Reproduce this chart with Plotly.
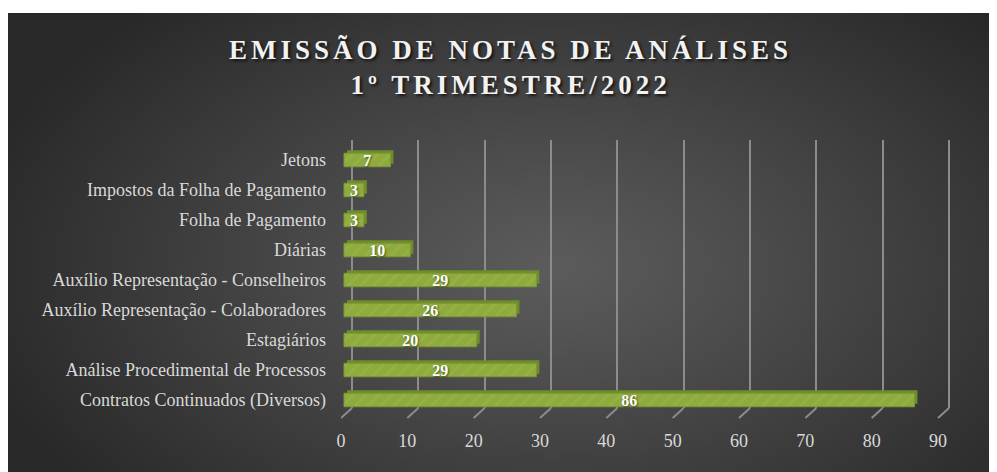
import base64, struct, zlib
import numpy as np
import plotly.graph_objects as go

# ---------------- data ----------------
categories = [
    "Jetons",
    "Impostos da Folha de Pagamento",
    "Folha de Pagamento",
    "Diárias",
    "Auxílio Representação - Conselheiros",
    "Auxílio Representação - Colaboradores",
    "Estagiários",
    "Análise Procedimental de Processos",
    "Contratos Continuados (Diversos)",
]
values = [7, 3, 3, 10, 29, 26, 20, 29, 86]
x_ticks = [0, 10, 20, 30, 40, 50, 60, 70, 80, 90]
title_lines = ["EMISSÃO DE NOTAS DE ANÁLISES", "1º TRIMESTRE/2022"]

# ---------------- geometry (page px; page body has an 8px margin) ----------------
OX, OY = 8, 8
W, H = 997 - OX, 472 - OY
PL, PR = 341 - OX, 953 - OX      # plot area left/right
PT, PB = 140 - OY, 408 - OY      # plot area top/bottom
pw, ph = PR - PL, PB - PT
ppu = 597.0 / 90.0               # px per unit (0 -> 341, 90 -> 938)
XMAX = pw / ppu
def shifted(px):
    return [-px / ppu, XMAX - px / ppu]

band = 30.0
ytop = ((PT + OY) - 160) / band  # category index at top edge (Jetons centre at y=160)
ybot = ytop + ph / band

# ---------------- background gradient (png) ----------------
def gradient_png(w, h):
    yy, xx = np.mgrid[0:h, 0:w]
    cx, cy = 0.55 * w, 0.55 * h
    r = np.sqrt(((xx - cx) / (0.62 * w)) ** 2 + ((yy - cy) / (0.78 * h)) ** 2)
    r = np.clip(r, 0, 1)
    c = 92 - (92 - 40) * r ** 1.1
    img = np.clip(c, 0, 255).astype(np.uint8)
    rgb = np.stack([img, img, img], axis=-1)
    raw = b"".join(b"\x00" + rgb[i].tobytes() for i in range(h))
    def chunk(t, d):
        return struct.pack(">I", len(d)) + t + d + struct.pack(">I", zlib.crc32(t + d) & 0xFFFFFFFF)
    png = b"\x89PNG\r\n\x1a\n" + chunk(b"IHDR", struct.pack(">IIBBBBB", w, h, 8, 2, 0, 0, 0)) \
        + chunk(b"IDAT", zlib.compress(raw, 9)) + chunk(b"IEND", b"")
    return "data:image/png;base64," + base64.b64encode(png).decode()

BG_L, BG_T, BG_R, BG_B = 8 - OX, 13 - OY, 996 - OX, 472 - OY

fig = go.Figure()

# front axis dummy (tick labels)
fig.add_trace(go.Scatter(x=[x_ticks[0], x_ticks[-1]], y=[categories[0], categories[0]],
                         mode="markers", marker=dict(opacity=0), xaxis="x", yaxis="y",
                         hoverinfo="skip", showlegend=False))
# back wall gridline axis dummy
fig.add_trace(go.Scatter(x=[x_ticks[0], x_ticks[-1]], y=[categories[0], categories[0]],
                         mode="markers", marker=dict(opacity=0), xaxis="x2", yaxis="y",
                         hoverinfo="skip", showlegend=False))
# depth of bars (shifted right 3px via axis, up 3px via offset)
fig.add_trace(go.Bar(x=values, y=categories, orientation="h", xaxis="x3", yaxis="y",
                     marker=dict(color="#6f8c2b", line=dict(width=0)), width=0.45,
                     offset=-0.225 - 3.0 / band,
                     hoverinfo="skip", showlegend=False))
# front face of bars
fig.add_trace(go.Bar(
    x=values, y=categories, orientation="h", xaxis="x4", yaxis="y",
    width=0.45,
    marker=dict(color="#8fab3e", line=dict(color="#7c9834", width=1),
                pattern=dict(shape="/", fgcolor="#a3bf55", fgopacity=0.35, size=9, solidity=0.25)),
    text=[str(v) for v in values], textposition="inside", insidetextanchor="middle",
    constraintext="none", textangle=0,
    textfont=dict(family="Liberation Serif", size=16, color="white", weight="bold",
                  shadow="1px 1px 2px rgba(0,0,0,0.5)"),
    showlegend=False,
))

shapes = []
for v in x_ticks:
    shapes.append(dict(type="line", xref="x", yref="paper",
                       x0=v, y0=-10.0 / ph, x1=v + 11.0 / ppu, y1=0,
                       line=dict(color="#8c8c8c", width=2)))

spaced = '<span style="letter-spacing:4px">{}</span>'
title_text = "<br>".join(spaced.format(t) for t in title_lines)

tickfont = dict(family="Liberation Serif", size=18, color="#d9d9d9")
fig.update_layout(
    width=W, height=H,
    margin=dict(l=PL, r=W - PR, t=PT, b=H - PB, pad=0),
    paper_bgcolor="white", plot_bgcolor="rgba(0,0,0,0)",
    images=[dict(source=gradient_png(247, 115), xref="paper", yref="paper",
                 x=(BG_L - PL) / pw, y=(PB - BG_T) / ph,
                 sizex=(BG_R - BG_L) / pw, sizey=(BG_B - BG_T) / ph,
                 xanchor="left", yanchor="top", sizing="stretch", layer="below")],
    annotations=[dict(
        text=title_text, xref="paper", yref="paper",
        x=(510 - OX - PL) / pw, y=(PB - (68 - OY)) / ph,
        xanchor="center", yanchor="middle", showarrow=False, align="center",
        font=dict(family="Liberation Serif", size=27, color="#f2f2f2", weight="bold",
                  shadow="2px 2px 3px rgba(0,0,0,0.7)"),
    )],
    xaxis=dict(range=[0, XMAX], tickvals=x_ticks, showgrid=False, zeroline=False,
               showline=False, ticks="", ticklabelstandoff=20, tickfont=tickfont, fixedrange=True),
    xaxis2=dict(overlaying="x", range=shifted(11), tickvals=x_ticks, showgrid=True,
                gridcolor="#8c8c8c", gridwidth=2, zeroline=False, showticklabels=False,
                showline=False, ticks=""),
    xaxis3=dict(overlaying="x", range=shifted(6), visible=False),
    xaxis4=dict(overlaying="x", range=shifted(3), visible=False),
    yaxis=dict(categoryorder="array", categoryarray=categories, range=[ybot, ytop],
               showgrid=False, zeroline=False, showline=False, ticks="",
               ticklabelstandoff=14,
               tickfont=dict(family="Liberation Serif", size=18, color="#d9d9d9")),
    barmode="overlay",
    shapes=shapes,
)

fig.write_html("out.html")
